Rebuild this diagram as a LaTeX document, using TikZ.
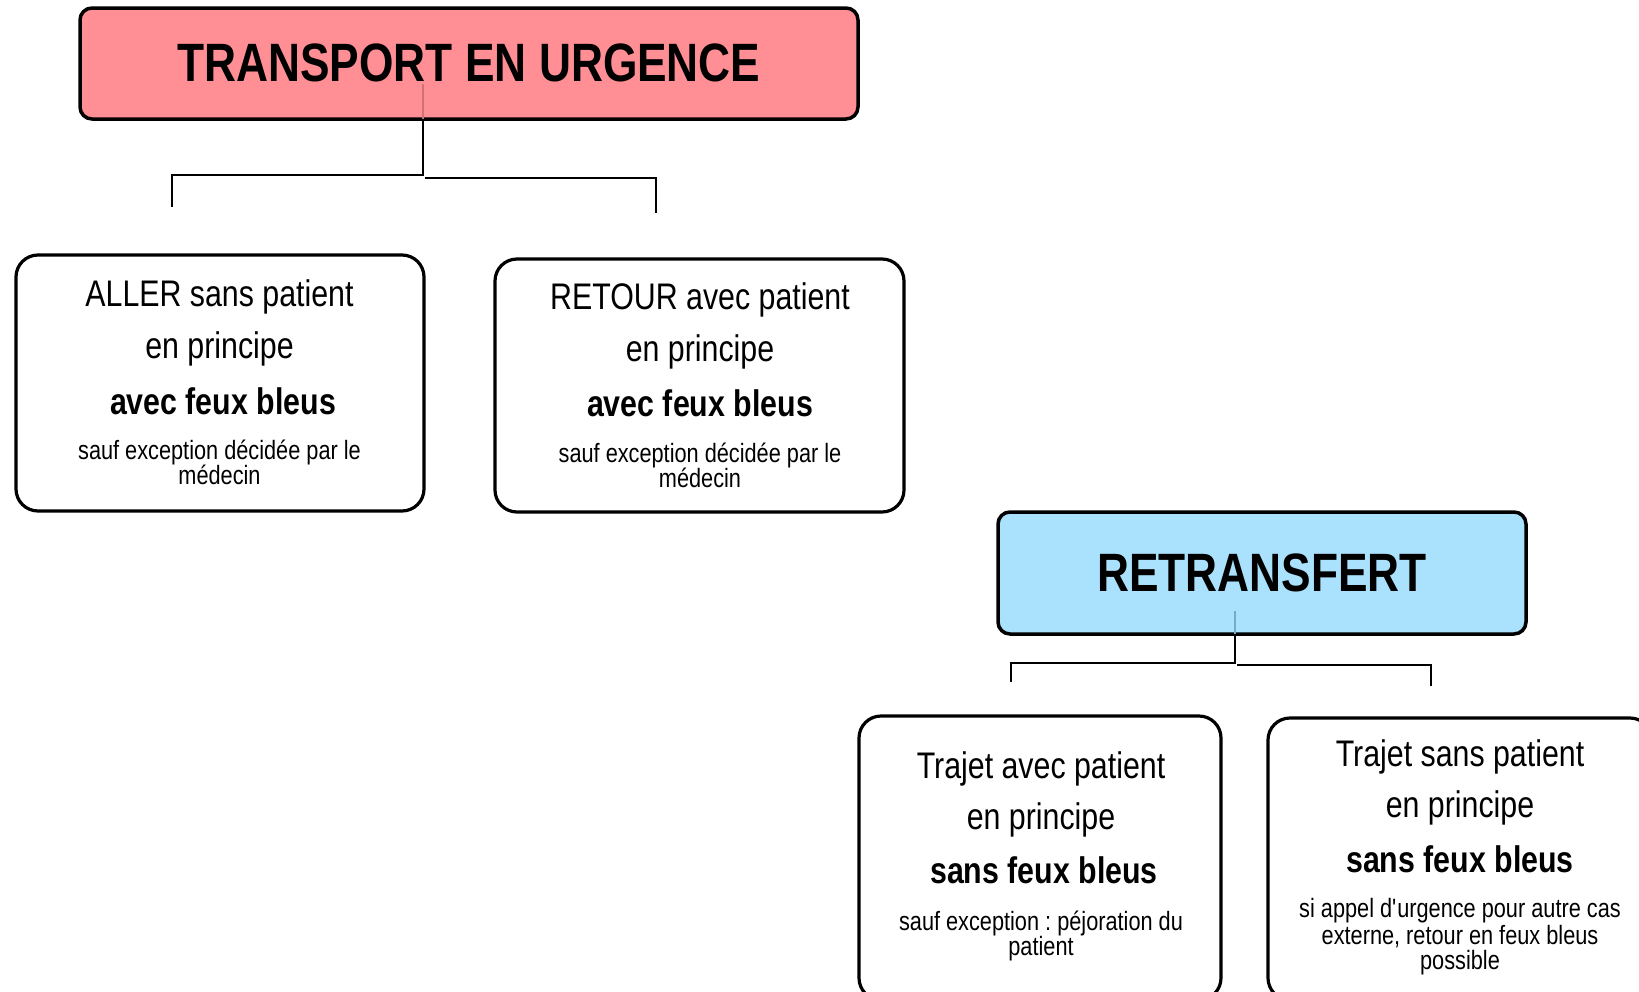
\documentclass[tikz,border=0pt]{standalone}
\usepackage{fontspec}
\setmainfont{Liberation Sans}[FakeStretch=0.82]
\definecolor{redfill}{RGB}{255,143,148}
\definecolor{bluefill}{RGB}{170,225,253}
\definecolor{redfaint}{RGB}{205,115,120}
\definecolor{bluefaint}{RGB}{120,170,200}
\frenchspacing
\begin{document}
\begin{tikzpicture}[x=1pt,y=-1pt,
  titlebox/.style={draw=black, line width=3.5pt, rounded corners=12pt, inner sep=0pt},
  infobox/.style={draw=black, fill=white, line width=3.2pt, rounded corners=22pt, inner sep=0pt},
  link/.style={draw=black, line width=2.6pt},
  faint/.style={line width=1.2pt},
  ttl/.style={font=\fontsize{54}{60}\selectfont\bfseries, anchor=base, inner sep=0pt},
  big/.style={font=\fontsize{37}{42}\selectfont, anchor=base, inner sep=0pt},
  bigb/.style={font=\fontsize{37}{42}\selectfont\bfseries, anchor=base, inner sep=0pt},
  small/.style={font=\fontsize{26.5}{30}\selectfont, anchor=base, inner sep=0pt}
]
\useasboundingbox (0,0) rectangle (1639,991);
\clip (0,0) rectangle (1639,991);
\fill[white] (0,0) rectangle (1639,991);

% ---------- TRANSPORT EN URGENCE ----------
\node[titlebox, fill=redfill, minimum width=778pt, minimum height=111pt] (urg) at (469,63.5) {};
\coordinate (utop) at (423,119);
\draw[faint, redfaint] (utop) -- ++(0,-35);
\node[ttl] (urgt) at (469,81.5) {TRANSPORT EN URGENCE};

\coordinate (la) at (172,207);
\coordinate (ra) at (656,213);
\draw[link] (utop) -- ++(0,56) -| (la);
\draw[link] (utop) ++(2,59) -| (ra);

% ALLER box
\node[infobox, minimum width=408pt, minimum height=256pt] (aller) at (220,383) {};
\node[big]   (al1) at (219.5,306) {ALLER sans patient};
\node[big]   (al2) at (219.5,358.5) {en principe};
\node[bigb]  (al3) at (223,414) {avec feux bleus};
\node[small] (al4) at (219.5,459) {sauf exception décidée par le};
\node[small] (al5) at (219.5,484) {médecin};

% RETOUR box
\node[infobox, minimum width=409pt, minimum height=253pt] (retour) at (699.5,385.5) {};
\node[big]   (re1) at (700,309) {RETOUR avec patient};
\node[big]   (re2) at (700,361.5) {en principe};
\node[bigb]  (re3) at (700,416) {avec feux bleus};
\node[small] (re4) at (700,462) {sauf exception décidée par le};
\node[small] (re5) at (700,487) {médecin};

% ---------- RETRANSFERT ----------
\node[titlebox, fill=bluefill, minimum width=528pt, minimum height=122pt] (retr) at (1262,573) {};
\coordinate (rtop) at (1235,634);
\draw[faint, bluefaint] (rtop) -- ++(0,-23);
\node[ttl] (retrt) at (1262,591.5) {RETRANSFERT};

\coordinate (lb) at (1011,682);
\coordinate (rb) at (1431,686);
\draw[link] (rtop) -- ++(0,29) -| (lb);
\draw[link] (rtop) ++(2,31) -| (rb);

% Trajet avec patient
\node[infobox, minimum width=362pt, minimum height=284pt] (tavec) at (1040,858) {};
\node[big]   (ta1) at (1041,778) {Trajet avec patient};
\node[big]   (ta2) at (1041,829) {en principe};
\node[bigb]  (ta3) at (1044,883) {sans feux bleus};
\node[small] (ta4) at (1041,930) {sauf exception : péjoration du};
\node[small] (ta5) at (1041,955.5) {patient};

% Trajet sans patient
\node[infobox, minimum width=384pt, minimum height=282pt] (tsans) at (1460,859) {};
\node[big]   (ts1) at (1460,766) {Trajet sans patient};
\node[big]   (ts2) at (1460,817.5) {en principe};
\node[bigb]  (ts3) at (1460,872) {sans feux bleus};
\node[small] (ts4) at (1460,917) {si appel d\textquotesingle urgence pour autre cas};
\node[small] (ts5) at (1460,944) {externe, retour en feux bleus};
\node[small] (ts6) at (1460,969) {possible};
\end{tikzpicture}
\end{document}
